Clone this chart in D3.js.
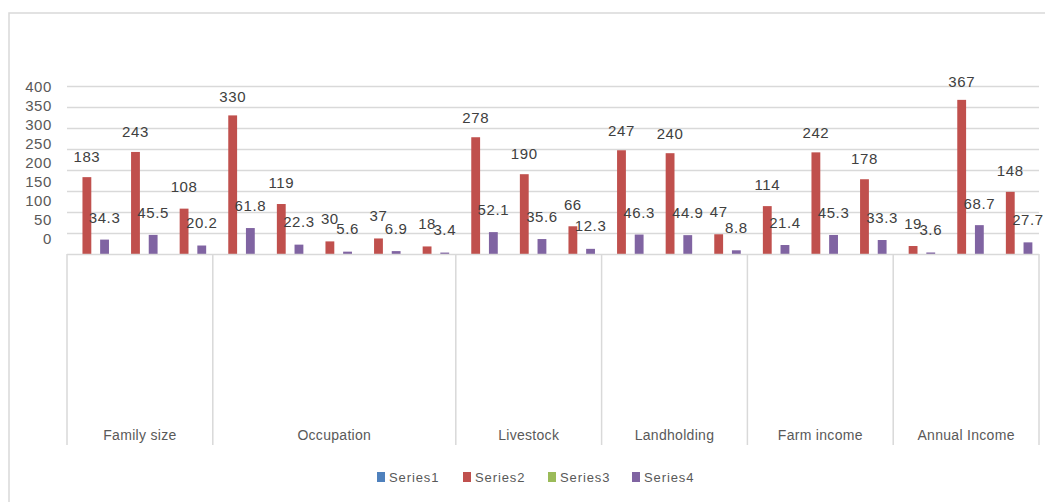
<!DOCTYPE html>
<html>
<head>
<meta charset="utf-8">
<script src="https://cdn.jsdelivr.net/npm/d3@7"></script>
<style>
    body { margin: 0; background: #fff; }
    text { font-family: "Liberation Sans", Arial, sans-serif; fill: #595959; }
</style>
</head>
<body>
<svg id="chart" width="1045" height="502"></svg>
<script>
//  category groups and how many sub-slots each has
const groups = ["Family size", "Occupation", "Livestock", "Landholding", "Farm income", "Annual Income"];
const groupSizes = [3, 5, 3, 3, 3, 3];

//  series values, one per slot (20 slots)
const seriesNames = ["Series1", "Series2", "Series3", "Series4"];
const series1 = [0, 0, 0, 0, 0, 0, 0, 0, 0, 0, 0, 0, 0, 0, 0, 0, 0, 0, 0, 0];
const series2 = [183, 243, 108, 330, 119, 30, 37, 18, 278, 190, 66, 247, 240, 47, 114, 242, 178, 19, 367, 148];
const series3 = [0, 0, 0, 0, 0, 0, 0, 0, 0, 0, 0, 0, 0, 0, 0, 0, 0, 0, 0, 0];
const series4 = [34.3, 45.5, 20.2, 61.8, 22.3, 5.6, 6.9, 3.4, 52.1, 35.6, 12.3, 46.3, 44.9, 8.8, 21.4, 45.3, 33.3, 3.6, 68.7, 27.7];
const tickValues = [0, 50, 100, 150, 200, 250, 300, 350, 400];

const colors = ["#4f81bd", "#c0504d", "#9bbb59", "#8064a2"];
const allSeries = [series1, series2, series3, series4];
const labelled = [false, true, false, true];

const svg = d3.select("#chart");

//  chart area border (cropped on right and bottom)
svg.append("path").attr("d", "M9,502 V13 H1045")
    .attr("fill", "none").attr("stroke", "#d9d9d9").attr("stroke-width", 1.5);

const plotLeft = 67, plotRight = 1039, plotBase = 254, plotTop = 86;
const nSlots = series2.length;

const x = d3.scaleBand().domain(d3.range(nSlots)).range([plotLeft, plotRight]).paddingInner(0).paddingOuter(0);
const y = d3.scaleLinear().domain([0, 400]).range([plotBase, plotTop]);
//  tick text and data labels sit on their own (slightly squashed) positions in the picture
const yTickText = d3.scaleLinear().domain([0, 400]).range([238, 86]);
const yLabel = d3.scaleLinear().domain([0, 400]).range([231, 68]);

//  gridlines
svg.append("g").selectAll("line").data(tickValues.filter(d => d > 0)).join("line")
    .attr("x1", plotLeft).attr("x2", plotRight)
    .attr("y1", d => Math.round(y(d)) + 0.5).attr("y2", d => Math.round(y(d)) + 0.5)
    .attr("stroke", "#d9d9d9").attr("stroke-width", 1.5);

//  value axis labels
svg.append("g").selectAll("text").data(tickValues).join("text")
    .attr("x", 52).attr("y", d => yTickText(d))
    .attr("text-anchor", "end").attr("dominant-baseline", "central")
    .style("font-size", "15px").style("letter-spacing", "0.6px")
    .text(d => d);

//  bars
const barW = x.bandwidth() / 5.5;
const bars = svg.append("g");
allSeries.forEach((vals, si) => {
    bars.selectAll(null).data(vals).join("rect")
        .attr("x", (d, i) => x(i) + barW * 0.75 + si * barW)
        .attr("width", barW)
        .attr("y", d => y(d))
        .attr("height", d => plotBase - y(d))
        .attr("fill", colors[si]);
});

//  category axis: baseline and group separators
svg.append("line").attr("x1", plotLeft).attr("x2", plotRight).attr("y1", plotBase + 0.5).attr("y2", plotBase + 0.5)
    .attr("stroke", "#d9d9d9").attr("stroke-width", 1.5);

let bounds = [0];
groupSizes.forEach(n => bounds.push(bounds[bounds.length - 1] + n));
const boundX = i => (i < nSlots ? x(i) : plotRight);

svg.append("g").selectAll("line").data(bounds).join("line")
    .attr("x1", d => boundX(d)).attr("x2", d => boundX(d))
    .attr("y1", plotBase).attr("y2", 445)
    .attr("stroke", "#d9d9d9").attr("stroke-width", 1.5);

svg.append("g").selectAll("text").data(groups).join("text")
    .attr("x", (d, i) => (boundX(bounds[i]) + boundX(bounds[i + 1])) / 2)
    .attr("y", 435)
    .attr("text-anchor", "middle").attr("dominant-baseline", "central")
    .style("font-size", "14px").style("letter-spacing", "0.3px")
    .text(d => d);

//  data labels
const labels = svg.append("g");
allSeries.forEach((vals, si) => {
    if (!labelled[si]) return;
    labels.selectAll(null).data(vals).join("text")
        .attr("x", (d, i) => x(i) + barW * 0.75 + si * barW + barW / 2)
        .attr("y", d => yLabel(d))
        .attr("text-anchor", "middle").attr("dominant-baseline", "central")
        .style("font-size", "15px").style("letter-spacing", "0.6px")
        .style("fill", "#404040")
        .text(d => d);
});

//  legend
const legendX = [377, 463, 548, 632];
const legend = svg.append("g").selectAll("g").data(seriesNames).join("g")
    .attr("transform", (d, i) => `translate(${legendX[i]},477)`);
legend.append("rect").attr("x", 0).attr("y", -5).attr("width", 8).attr("height", 10)
    .attr("fill", (d, i) => colors[i]);
legend.append("text").attr("x", 12).attr("y", 0).attr("dominant-baseline", "central")
    .style("font-size", "13px").style("letter-spacing", "0.9px")
    .text(d => d);
</script>
</body>
</html>
